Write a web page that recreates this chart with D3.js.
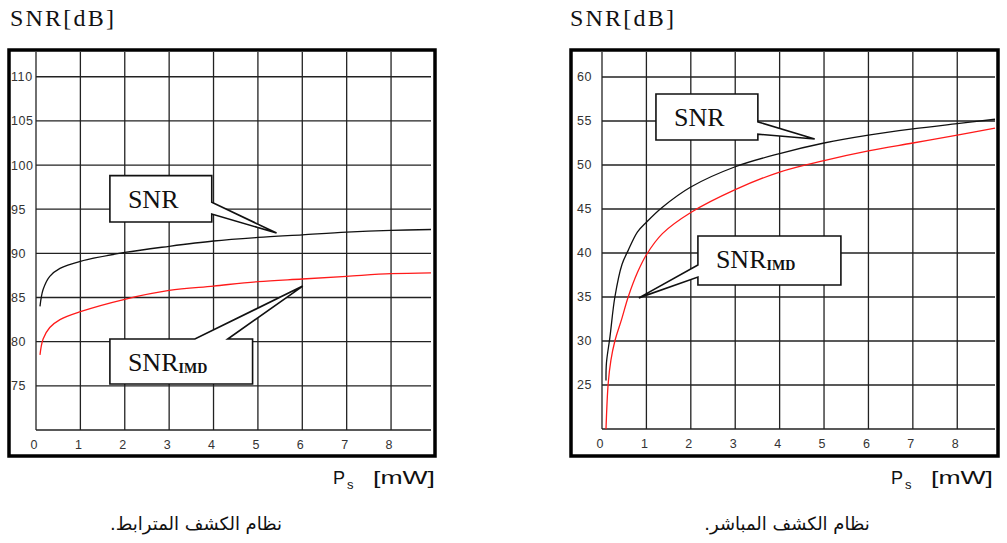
<!DOCTYPE html>
<html>
<head>
<meta charset="utf-8">
<script src="https://cdn.jsdelivr.net/npm/d3@7"></script>
<style>
  body { margin: 0; background: #fff; }
  svg { display: block; }
</style>
</head>
<body>
<div id="chart"></div>
<script>
// ---- data ----
const xTicks = [0, 1, 2, 3, 4, 5, 6, 7, 8];

// left panel: coherent detection
const psLeft  = [0.09, 0.16, 0.31, 0.54, 1.0, 2.0, 3.0, 4.0, 5.0, 6.0, 7.0, 8.0, 8.9];
const snrLeft = [84.0, 85.9, 87.4, 88.3, 89.1, 90.1, 90.8, 91.4, 91.8, 92.1, 92.4, 92.6, 92.7];
const imdLeft = [78.5, 80.3, 81.6, 82.5, 83.4, 84.8, 85.8, 86.3, 86.8, 87.1, 87.4, 87.7, 87.8];
const yTicksLeft = [75, 80, 85, 90, 95, 100, 105, 110];

// right panel: direct detection
const psRightSnr = [0.09, 0.10, 0.18, 0.29, 0.45, 0.59, 0.8, 1.0, 1.36, 2.0, 3.0, 4.0, 5.0, 6.0, 7.0, 8.0, 8.85];
const snrRight   = [25.5, 27.5, 30.5, 35.0, 38.7, 40.3, 42.4, 43.5, 45.2, 47.5, 49.8, 51.3, 52.5, 53.4, 54.1, 54.7, 55.2];
const psRightImd = [0.09, 0.14, 0.2, 0.29, 0.45, 0.59, 0.8, 1.0, 1.36, 2.0, 3.0, 4.0, 5.0, 6.0, 7.0, 8.0, 8.85];
const imdRight   = [20.0, 25.2, 27.8, 30.0, 32.6, 35.0, 37.8, 39.8, 42.2, 44.6, 47.2, 49.2, 50.5, 51.6, 52.5, 53.4, 54.2];
const yTicksRight = [25, 30, 35, 40, 45, 50, 55, 60];

const yTitle = "SNR[dB]";
const captionLeft = "نظام الكشف المترابط.";
const captionRight = "نظام الكشف المباشر.";

// callouts in data units: box [x0, yTop, x1, yBottom], wedge side, wedge base, tip
const calloutsLeft = [
  {label: "SNR", sub: "", box: [1.665, 98.8, 3.96, 93.55], side: "right", base: [95.8, 94.45], tip: [5.42, 92.3]},
  {label: "SNR", sub: "IMD", box: [1.665, 80.3, 4.88, 75.2], side: "top", base: [3.58, 4.32], tip: [6.01, 86.3]}
];
const calloutsRight = [
  {label: "SNR", sub: "", box: [1.215, 58.07, 3.51, 52.84], side: "right", base: [54.9, 53.5], tip: [4.79, 52.95]},
  {label: "SNR", sub: "IMD", box: [2.16, 41.93, 5.38, 36.36], side: "left", base: [38.64, 37.27], tip: [0.83, 34.9]}
];

// ---- layout ----
const width = 1007, height = 543;

const panels = [
  {frame: [9, 50, 435, 456], plot: [36, 52, 431, 430], xMax: 8.9, yDomain: [70, 112.8],
   ps: [psLeft, psLeft], snr: snrLeft, imd: imdLeft, yTicks: yTicksLeft, callouts: calloutsLeft,
   titleX: 10, unitX: 333, caption: captionLeft, captionX: 196},
  {frame: [571, 50, 998, 456], plot: [602, 52, 995, 429], xMax: 8.85, yDomain: [20, 62.84],
   ps: [psRightSnr, psRightImd], snr: snrRight, imd: imdRight, yTicks: yTicksRight, callouts: calloutsRight,
   titleX: 570, unitX: 891, caption: captionRight, captionX: 787}
];

const svg = d3.select("#chart").append("svg")
  .attr("width", width)
  .attr("height", height);

svg.append("rect").attr("width", width).attr("height", height).attr("fill", "#fff");

panels.forEach(drawPanel);

function drawPanel(p) {
  const g = svg.append("g");
  const x = d3.scaleLinear().domain([0, p.xMax]).range([p.plot[0], p.plot[2]]);
  const y = d3.scaleLinear().domain(p.yDomain).range([p.plot[3], p.plot[1]]);

  // title
  g.append("text")
    .attr("x", p.titleX).attr("y", 26)
    .attr("font-family", "Liberation Serif, serif")
    .attr("font-size", 24)
    .attr("letter-spacing", 2.2)
    .attr("fill", "#111")
    .text(yTitle);

  // grid
  const grid = g.append("g").attr("stroke", "#222").attr("stroke-width", 1.3);
  grid.selectAll(".vx").data(xTicks).enter().append("line")
    .attr("x1", d => x(d)).attr("x2", d => x(d))
    .attr("y1", p.plot[1]).attr("y2", y(p.yDomain[0]));
  grid.selectAll(".hy").data([p.yDomain[0]].concat(p.yTicks)).enter().append("line")
    .attr("x1", x(0)).attr("x2", p.plot[2])
    .attr("y1", d => y(d)).attr("y2", d => y(d));

  // tick labels
  g.append("g").selectAll("text").data(p.yTicks).enter().append("text")
    .attr("x", x(0) - 25).attr("y", d => y(d) + 4.5)
    .attr("font-family", "Liberation Sans, Arial, sans-serif")
    .attr("font-size", 12.5).attr("letter-spacing", 0.6)
    .attr("fill", "#333")
    .text(d => d);
  g.append("g").selectAll("text").data(xTicks).enter().append("text")
    .attr("x", d => x(d) - 2).attr("y", p.plot[3] + 19)
    .attr("text-anchor", "middle")
    .attr("font-family", "Liberation Sans, Arial, sans-serif")
    .attr("font-size", 12.5)
    .attr("fill", "#333")
    .text(d => d);

  // curves
  const line = d3.line().x(d => x(d[0])).y(d => y(d[1])).curve(d3.curveCatmullRom.alpha(0.5));
  g.append("path")
    .attr("d", line(d3.zip(p.ps[1], p.imd)))
    .attr("fill", "none").attr("stroke", "#ff1a1a").attr("stroke-width", 1.3);
  g.append("path")
    .attr("d", line(d3.zip(p.ps[0], p.snr)))
    .attr("fill", "none").attr("stroke", "#111").attr("stroke-width", 1.3);

  // callouts
  p.callouts.forEach(c => {
    const x0 = x(c.box[0]), x1 = x(c.box[2]), y0 = y(c.box[1]), y1 = y(c.box[3]);
    const tx = x(c.tip[0]), ty = y(c.tip[1]);
    let pts;
    if (c.side === "right") {
      pts = [[x0, y0], [x1, y0], [x1, y(c.base[0])], [tx, ty], [x1, y(c.base[1])], [x1, y1], [x0, y1]];
    } else if (c.side === "left") {
      pts = [[x0, y0], [x1, y0], [x1, y1], [x0, y1], [x0, y(c.base[1])], [tx, ty], [x0, y(c.base[0])]];
    } else {
      pts = [[x0, y0], [x(c.base[0]), y0], [tx, ty], [x(c.base[1]), y0], [x1, y0], [x1, y1], [x0, y1]];
    }
    g.append("path")
      .attr("d", "M" + pts.join("L") + "Z")
      .attr("fill", "#fff").attr("stroke", "#111").attr("stroke-width", 1.6)
      .attr("stroke-linejoin", "miter");
    const t = g.append("text")
      .attr("x", x0 + 18).attr("y", y0 + 32)
      .attr("font-family", "Liberation Serif, serif")
      .attr("font-size", 26)
      .attr("fill", "#111")
      .text(c.label);
    if (c.sub) {
      t.append("tspan")
        .attr("font-size", 14).attr("font-weight", "bold")
        .attr("dy", 2)
        .text(c.sub);
    }
  });

  // frame
  g.append("rect")
    .attr("x", p.frame[0]).attr("y", p.frame[1])
    .attr("width", p.frame[2] - p.frame[0]).attr("height", p.frame[3] - p.frame[1])
    .attr("fill", "none").attr("stroke", "#000").attr("stroke-width", 3.5);

  // x unit label
  const u = g.append("g")
    .attr("font-family", "Liberation Sans, Arial, sans-serif")
    .attr("fill", "#111");
  u.append("text").attr("x", p.unitX).attr("y", 484).attr("font-size", 18).text("P");
  u.append("text").attr("x", p.unitX + 14).attr("y", 489).attr("font-size", 13).text("s");
  u.append("text").attr("x", p.unitX + 40).attr("y", 484).attr("font-size", 18)
    .attr("textLength", 62).attr("lengthAdjust", "spacingAndGlyphs")
    .text("[mW]");

  // caption
  g.append("text")
    .attr("x", p.captionX).attr("y", 530)
    .attr("text-anchor", "middle")
    .attr("direction", "rtl")
    .attr("font-family", "DejaVu Sans, sans-serif")
    .attr("font-size", 18)
    .attr("fill", "#111")
    .text(p.caption);
}
</script>
</body>
</html>
